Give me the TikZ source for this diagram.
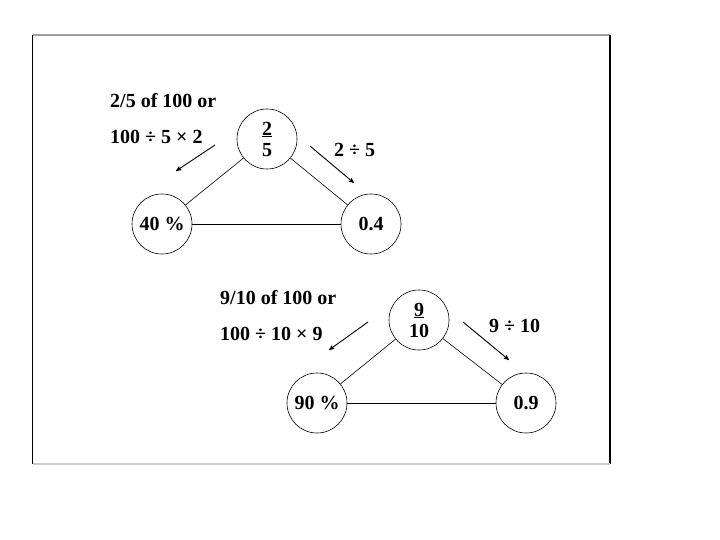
\documentclass[tikz,border=0pt]{standalone}
\usepackage{fontspec}
\setmainfont{Liberation Serif}
\usetikzlibrary{arrows, positioning}

\begin{document}
\begin{tikzpicture} [x=1pt, y=-1pt, thin, align=center, font=\fontsize{20}{22}\selectfont\bfseries, ->,>=stealth']
\tikzset{
  ring/.style={draw, circle, minimum size=60pt, inner sep=0pt, line width=0.6pt},
  hint/.style={inner sep=0pt, anchor=west},
  tie/.style={-, line width=0.6pt},
  pointer/.style={->, line width=0.9pt}
}
\useasboundingbox (0,0) rectangle (720,540);

% frame
\draw[-, gray!75, line width=1.2pt]	(32.5,35) -- (610,35);
\draw[-, black, line width=1.2pt]	(32.5,35) -- (32.5,464);
\draw[-, black, line width=1.2pt]	(610,35) -- (610,464);
\draw[-, gray!40, line width=1.2pt]	(32.5,464) -- (610,464);

% first triangle
\node[ring]	(frac_a)	at (267,139)	{\underline{2}\\[-1pt]5};
\node[ring]	(pct_a)	at (162,224)	{40 \%};
\node[ring]	(dec_a)	at (371,224)	{0.4};

\node[hint]	(of_a)	at (110,101)	{2/5 of 100 or};
\node[hint]	(div_a)	[below=22pt of of_a.south west, anchor=north west]	{100 ÷ 5 × 2};
\node[hint]	(rule_a)	at (334,150)	{2 ÷ 5};

\coordinate	(pa_from)	at (215,145);
\coordinate	(pa_to)	at (176,171);
\coordinate	(pb_from)	at (310,146);
\coordinate	(pb_to)	at (354,183);

\path	(frac_a)	edge[tie]	(pct_a)
		edge[tie]	(dec_a)
	(pct_a)	edge[tie]	(dec_a)
	(pa_from)	edge[pointer]	(pa_to)
	(pb_from)	edge[pointer]	(pb_to)
;

% second triangle
\node[ring]	(frac_b)	at (419,320)	{\underline{9}\\[-1pt]10};
\node[ring]	(pct_b)	at (317,403)	{90 \%};
\node[ring]	(dec_b)	at (526,403)	{0.9};

\node[hint]	(of_b)	at (220,298)	{9/10 of 100 or};
\node[hint]	(div_b)	[below=22pt of of_b.south west, anchor=north west]	{100 ÷ 10 × 9};
\node[hint]	(rule_b)	at (489,326)	{9 ÷ 10};

\coordinate	(pc_from)	at (368,322);
\coordinate	(pc_to)	at (329,350);
\coordinate	(pd_from)	at (463,322);
\coordinate	(pd_to)	at (509,360);

\path	(frac_b)	edge[tie]	(pct_b)
		edge[tie]	(dec_b)
	(pct_b)	edge[tie]	(dec_b)
	(pc_from)	edge[pointer]	(pc_to)
	(pd_from)	edge[pointer]	(pd_to)
;

\end{tikzpicture}
\end{document}
